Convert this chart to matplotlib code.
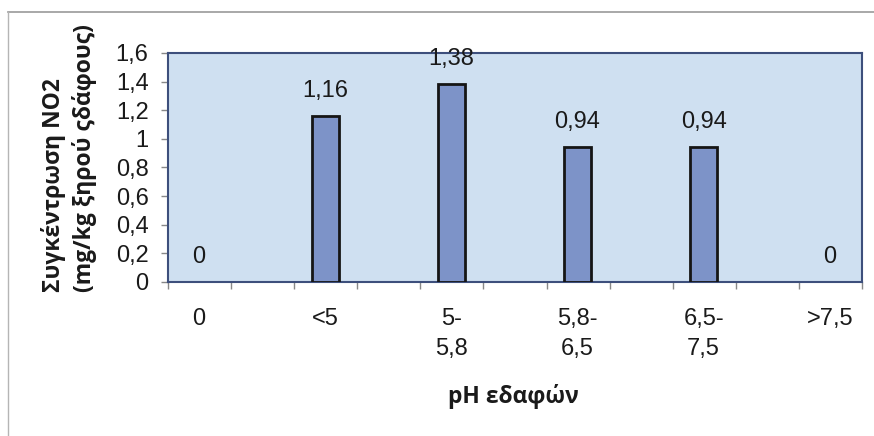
import matplotlib
matplotlib.use("Agg")
import matplotlib.pyplot as plt
import numpy as np
from matplotlib.lines import Line2D

categories = ["0", "<5", "5-\n5,8", "5,8-\n6,5", "6,5-\n7,5", ">7,5"]
values = [0, 1.16, 1.38, 0.94, 0.94, 0]
y_ticks = [0, 0.2, 0.4, 0.6, 0.8, 1.0, 1.2, 1.4, 1.6]
y_ticklabels = ["0", "0,2", "0,4", "0,6", "0,8", "1", "1,2", "1,4", "1,6"]
xlabel = "pH εδαφών"
ylabel = "Συγκέντρωση ΝΟ2\n(mg/kg ξηρού ςδάφους)"

W, H = 874, 436
fig = plt.figure(figsize=(W / 100, H / 100), dpi=100)
fig.patch.set_facecolor("white")

ax = fig.add_axes([168 / W, 1 - 282 / H, (862 - 168) / W, (282 - 53) / H])
ax.set_facecolor("#cfe0f1")

x = np.arange(len(categories))
lw = [2.0 if v > 0 else 0 for v in values]
ax.bar(x, values, width=0.213, color="#7d93c8", edgecolor="#151515", linewidth=lw, zorder=3)

for xi, v in zip(x, values):
    lab = ("%g" % v).replace(".", ",")
    ax.annotate(lab, (xi, v), xytext=(0, 14), textcoords="offset points",
                ha="center", va="baseline", fontsize=17, family="Liberation Sans",
                color="#1a1a1a", annotation_clip=False, zorder=4)

ax.set_xlim(-0.245, 5.23)
ax.set_ylim(0, 1.6)

ax.set_xticks(x)
ax.set_xticklabels(categories, fontsize=17, family="Liberation Sans", color="#1a1a1a",
                   linespacing=1.45)
ax.tick_params(axis="x", which="major", length=0, pad=19)
ax.set_xticks(np.arange(-0.245, 5.3, 0.5), minor=True)
ax.tick_params(axis="x", which="minor", length=5, color="#888888", width=1)

ax.set_yticks(y_ticks)
ax.set_yticklabels(y_ticklabels, fontsize=17, family="Liberation Sans", color="#1a1a1a")
ax.tick_params(axis="y", length=5, color="#888888", width=1, pad=9)

for s in ax.spines.values():
    s.set_color("#3d4f7c")
    s.set_linewidth(1.5)

fig.text(513 / W, 1 - 396 / H, xlabel, ha="center", va="center", fontsize=16.5,
         family="Open Sans", fontweight="bold", color="#1a1a1a")
fig.text(69 / W, 1 - 292 / H, ylabel, ha="center", va="bottom", rotation=90,
         multialignment="left", fontsize=16.5, family="Open Sans", fontweight="bold",
         color="#1a1a1a", linespacing=1.3)

fig.add_artist(Line2D([8 / W, 1], [1 - 12 / H, 1 - 12 / H], transform=fig.transFigure,
                      color="#9a9a9a", linewidth=1.2))
fig.add_artist(Line2D([8 / W, 8 / W], [0, 1 - 12 / H], transform=fig.transFigure,
                      color="#b5b5b5", linewidth=1.0))

fig.savefig("out.png", dpi=100)
